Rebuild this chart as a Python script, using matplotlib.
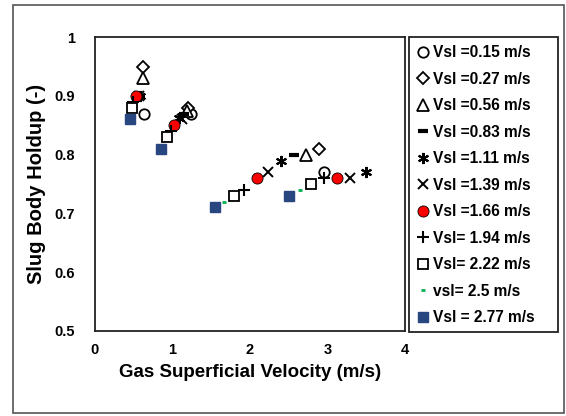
import matplotlib.pyplot as plt
from matplotlib.patches import Rectangle

plt.rcParams['font.family'] = ['Liberation Sans', 'DejaVu Sans']
plt.rcParams['font.weight'] = 'bold'

# liquid superficial velocities (legend labels)
labels = ['Vsl =0.15 m/s', 'Vsl =0.27 m/s', 'Vsl =0.56 m/s', 'Vsl =0.83 m/s',
          'Vsl =1.11 m/s', 'Vsl =1.39 m/s', 'Vsl =1.66 m/s', 'Vsl= 1.94 m/s',
          'Vsl= 2.22 m/s', 'vsl= 2.5 m/s', 'Vsl = 2.77 m/s']

# gas superficial velocity / slug body holdup for each series
x015 = [0.64, 1.24, 2.96]
y015 = [0.87, 0.87, 0.77]
x027 = [0.62, 1.21, 2.89]
y027 = [0.95, 0.88, 0.81]
x056 = [0.62, 1.19, 2.73]
y056 = [0.93, 0.875, 0.80]
x083 = [0.58, 1.15, 2.57]
y083 = [0.90, 0.87, 0.80]
x111 = [0.59, 1.09, 2.40, 3.50]
y111 = [0.90, 0.862, 0.79, 0.77]
x139 = [0.57, 1.12, 2.235, 3.29]
y139 = [0.90, 0.86, 0.77, 0.76]
x166 = [0.535, 1.02, 2.09, 3.12]
y166 = [0.90, 0.85, 0.76, 0.76]
x194 = [0.50, 0.98, 1.93, 2.95]
y194 = [0.89, 0.84, 0.74, 0.76]
x222 = [0.48, 0.93, 1.79, 2.79]
y222 = [0.88, 0.83, 0.73, 0.75]
x250 = [1.67, 2.65]
y250 = [0.72, 0.74]
x277 = [0.455, 0.85, 1.556, 2.50]
y277 = [0.86, 0.81, 0.71, 0.73]

W, H = 566, 416
fig = plt.figure(figsize=(W / 100, H / 100), dpi=100)
ax = fig.add_axes([94.6 / W, 1 - 330.7 / H, (405 - 94.6) / W, (330.7 - 37.3) / H])

# outer frame around the whole chart
fig.patches.append(Rectangle((12.5 / W, 3 / H), 551 / W, 408 / H, transform=fig.transFigure,
                             fill=False, edgecolor='#555555', linewidth=1.2))
# legend frame
fig.patches.append(Rectangle((409 / W, 1 - 332 / H), 149 / W, 295 / H, transform=fig.transFigure,
                             fill=False, edgecolor='#222222', linewidth=1.3))

ms = 7.5
ax.plot(x015, y015, 'o', ms=ms, mfc='white', mec='black', mew=1.3, ls='none', label=labels[0])
ax.plot(x027, y027, 'D', ms=6, mfc='white', mec='black', mew=1.3, ls='none', label=labels[1])
ax.plot(x056, y056, '^', ms=ms + 0.5, mfc='white', mec='black', mew=1.3, ls='none', label=labels[2])
ax.plot(x083, y083, '_', ms=ms, mec='black', mew=3, ls='none', label=labels[3])
ax.plot(x111, y111, marker=(6, 2, 0), ms=ms + 0.5, mec='black', mew=1.5, ls='none', label=labels[4])
ax.plot(x139, y139, 'x', ms=ms, mec='black', mew=1.4, ls='none', label=labels[5])
ax.plot(x166, y166, 'o', ms=ms + 0.5, mfc='red', mec='black', mew=0.6, ls='none', label=labels[6])
ax.plot(x194, y194, '+', ms=ms + 0.5, mec='black', mew=1.5, ls='none', label=labels[7])
ax.plot(x222, y222, 's', ms=ms, mfc='white', mec='black', mew=1.3, ls='none', label=labels[8])
ax.plot(x250, y250, '_', ms=3.5, mec='#00b050', mew=2, ls='none', label=labels[9])
ax.plot(x277, y277, 's', ms=ms, mfc='#28467f', mec='#28467f', ls='none', label=labels[10])

ax.set_xlim(0, 4)
ax.set_ylim(0.5, 1)
ax.set_xticks([0, 1, 2, 3, 4])
ax.set_yticks([0.5, 0.6, 0.7, 0.8, 0.9, 1.0])
ax.set_yticklabels(['0.5', '0.6', '0.7', '0.8', '0.9', '1'])
ax.tick_params(axis='x', length=0, labelsize=10.5, pad=9)
ax.tick_params(axis='y', length=0, labelsize=10.5, pad=14)
for lab in ax.get_xticklabels() + ax.get_yticklabels():
    lab.set_fontweight('bold')
for s in ax.spines.values():
    s.set_linewidth(1.3)
    s.set_color('#222222')

ax.set_xlabel('Gas Superficial Velocity (m/s)', fontsize=13.5, fontweight='bold', labelpad=5)
ax.set_ylabel('Slug Body Holdup (-)', fontsize=14.5, fontweight='bold', labelpad=6)

leg = ax.legend(loc='upper left', bbox_to_anchor=(418 / W, 1 - 45 / H), bbox_transform=fig.transFigure,
                frameon=False, handlelength=0.7, handletextpad=0.25, labelspacing=0.74,
                borderpad=0, borderaxespad=0, prop={'weight': 'bold', 'size': 11.2})

fig.savefig('out.png', dpi=100)
